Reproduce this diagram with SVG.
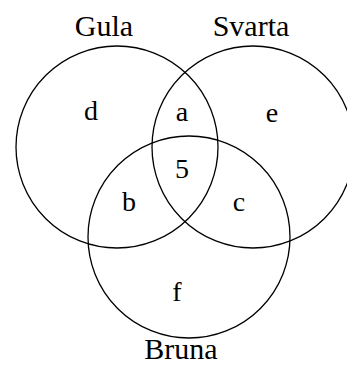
<svg xmlns="http://www.w3.org/2000/svg" width="347" height="367" viewBox="0 0 347 367">
<style>
.c{fill:none;stroke:#000;stroke-width:1.3}
.t{font-family:"Liberation Serif","Times New Roman",serif;fill:#000;text-anchor:middle}
.big{font-size:30px}
.sm{font-size:28px}
</style>
<rect width="347" height="367" fill="#fff"/>
<g id="connectors"></g>
<g id="gula"><circle class="c" cx="117" cy="147" r="101"/><text class="t big" x="104" y="36">Gula</text></g>
<g id="svarta"><circle class="c" cx="253" cy="147" r="101"/><text class="t big" x="251" y="36">Svarta</text></g>
<g id="bruna"><circle class="c" cx="189" cy="237" r="101"/><text class="t big" x="181" y="359">Bruna</text></g>
<g id="labels">
<text class="t sm" x="91" y="120">d</text>
<text class="t sm" x="182" y="121">a</text>
<text class="t sm" x="272" y="122">e</text>
<text class="t sm" x="182" y="178">5</text>
<text class="t sm" x="129" y="211">b</text>
<text class="t sm" x="239" y="211">c</text>
<text class="t sm" x="177" y="301">f</text>
</g>
</svg>
